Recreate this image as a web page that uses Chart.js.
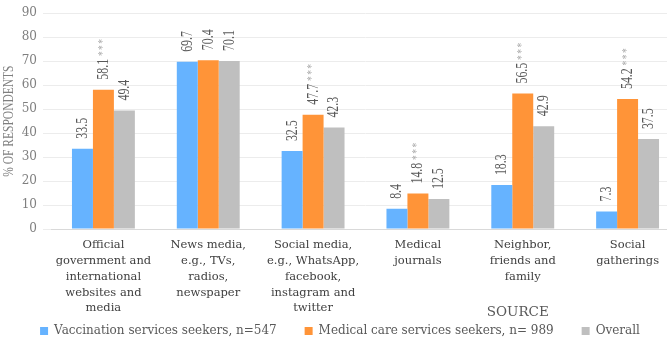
<!DOCTYPE html>
<html>
<head>
<title>Information sources</title>
<script src="https://cdn.jsdelivr.net/npm/chart.js"></script>
<style>
    html, body {
        margin: 0;
        padding: 0;
        background: #fff;
        overflow: hidden;
    }
    #chartContainer {
        width: 683px;
        height: 340px;
    }
</style>
</head>
<body>
<div id="chartContainer">
    <canvas id="myChart"></canvas>
</div>

<script>
var categories = [
    ['Official', 'government and', 'international', 'websites and', 'media'],
    ['News media,', 'e.g., TVs,', 'radios,', 'newspaper'],
    ['Social media,', 'e.g., WhatsApp,', 'facebook,', 'instagram and', 'twitter'],
    ['Medical', 'journals'],
    ['Neighbor,', 'friends and', 'family'],
    ['Social', 'gatherings']
];
var vaccinationSeekers = [33.5, 69.7, 32.5, 8.4, 18.3, 7.3];
var medicalSeekers = [58.1, 70.4, 47.7, 14.8, 56.5, 54.2];
var overall = [49.4, 70.1, 42.3, 12.5, 42.9, 37.5];
// significance marks shown after the medical care values
var medicalStars = ['***', '', '***', '***', '***', '***'];
var yTicks = [0, 10, 20, 30, 40, 50, 60, 70, 80, 90];

var serif = '"Liberation Serif", "Times New Roman", serif';
var wideSerif = '"DejaVu Serif", serif';

var extraText = {
    id: 'extraText',
    afterDatasetsDraw: function(chart) {
        var ctx = chart.ctx;
        var area = chart.chartArea;
        ctx.save();
        chart.data.datasets.forEach(function(ds, di) {
            var meta = chart.getDatasetMeta(di);
            meta.data.forEach(function(bar, i) {
                var text = ds.data[i].toFixed(1);
                ctx.save();
                ctx.translate(bar.x, bar.y - 10);
                ctx.rotate(-Math.PI / 2);
                ctx.scale(0.95, 1.35);
                ctx.textAlign = 'left';
                ctx.textBaseline = 'middle';
                ctx.font = '12.5px ' + serif;
                ctx.fillStyle = '#595959';
                ctx.fillText(text, 0, 0);
                var stars = di === 1 ? medicalStars[i] : '';
                if (stars) {
                    var w = ctx.measureText(text).width;
                    ctx.font = '10px ' + serif;
                    ctx.fillStyle = '#a6a6a6';
                    for (var s = 0; s < stars.length; s++) {
                        ctx.fillText('*', w + 3 + s * 6.5, -1);
                    }
                }
                ctx.restore();
            });
        });

        // y axis title
        ctx.save();
        ctx.translate(9, (area.top + area.bottom) / 2);
        ctx.rotate(-Math.PI / 2);
        ctx.scale(1, 1.2);
        ctx.font = '11.5px ' + serif;
        ctx.fillStyle = '#7f7f7f';
        ctx.textAlign = 'center';
        ctx.textBaseline = 'middle';
        ctx.fillText('% OF RESPONDENTS', 0, 0);
        ctx.restore();

        // x axis title
        ctx.font = '13.5px ' + wideSerif;
        ctx.fillStyle = '#595959';
        ctx.textAlign = 'center';
        ctx.textBaseline = 'middle';
        ctx.fillText('SOURCE', area.left + (area.right - area.left) * 0.742, 312);
        ctx.restore();
    }
};

var ctx = document.getElementById('myChart').getContext('2d');

var chart = new Chart(ctx, {
    type: 'bar',
    data: {
        labels: categories,
        datasets: [{
            label: 'Vaccination services seekers, n=547',
            data: vaccinationSeekers,
            backgroundColor: '#66b3ff'
        }, {
            label: 'Medical care services seekers, n= 989',
            data: medicalSeekers,
            backgroundColor: '#ff9438'
        }, {
            label: 'Overall',
            data: overall,
            backgroundColor: '#bfbfbf'
        }]
    },
    plugins: [extraText],
    options: {
        maintainAspectRatio: false,
        animation: false,
        layout: {
            padding: { top: 10, right: 3, left: 0, bottom: -7 }
        },
        datasets: {
            bar: {
                categoryPercentage: 0.6,
                barPercentage: 1.0
            }
        },
        plugins: {
            tooltip: { enabled: false },
            legend: {
                position: 'bottom',
                labels: {
                    boxWidth: 8,
                    boxHeight: 8,
                    padding: 5,
                    color: '#595959',
                    font: { family: wideSerif, size: 12 },
                    generateLabels: function(chart) {
                        var items = Chart.defaults.plugins.legend.labels.generateLabels(chart);
                        items.forEach(function(item, i) {
                            if (i < items.length - 1) item.text = item.text + '      ';
                        });
                        return items;
                    }
                }
            }
        },
        scales: {
            x: {
                afterFit: function(axis) { axis.height = 91; },
                grid: { display: false },
                border: { color: '#d9d9d9' },
                ticks: {
                    autoSkip: false,
                    maxRotation: 0,
                    padding: 0,
                    color: '#404040',
                    font: { family: wideSerif, size: 11.5, lineHeight: 1.38 }
                }
            },
            y: {
                min: 0,
                max: 90,
                afterFit: function(axis) { axis.width = 51; },
                afterBuildTicks: function(axis) {
                    axis.ticks = yTicks.map(function(v) { return { value: v }; });
                },
                grid: { color: '#ececec', tickLength: 8 },
                border: { display: false },
                ticks: {
                    padding: 6,
                    color: '#7f7f7f',
                    font: { family: wideSerif, size: 12 }
                }
            }
        }
    }
});
</script>
</body>
</html>
